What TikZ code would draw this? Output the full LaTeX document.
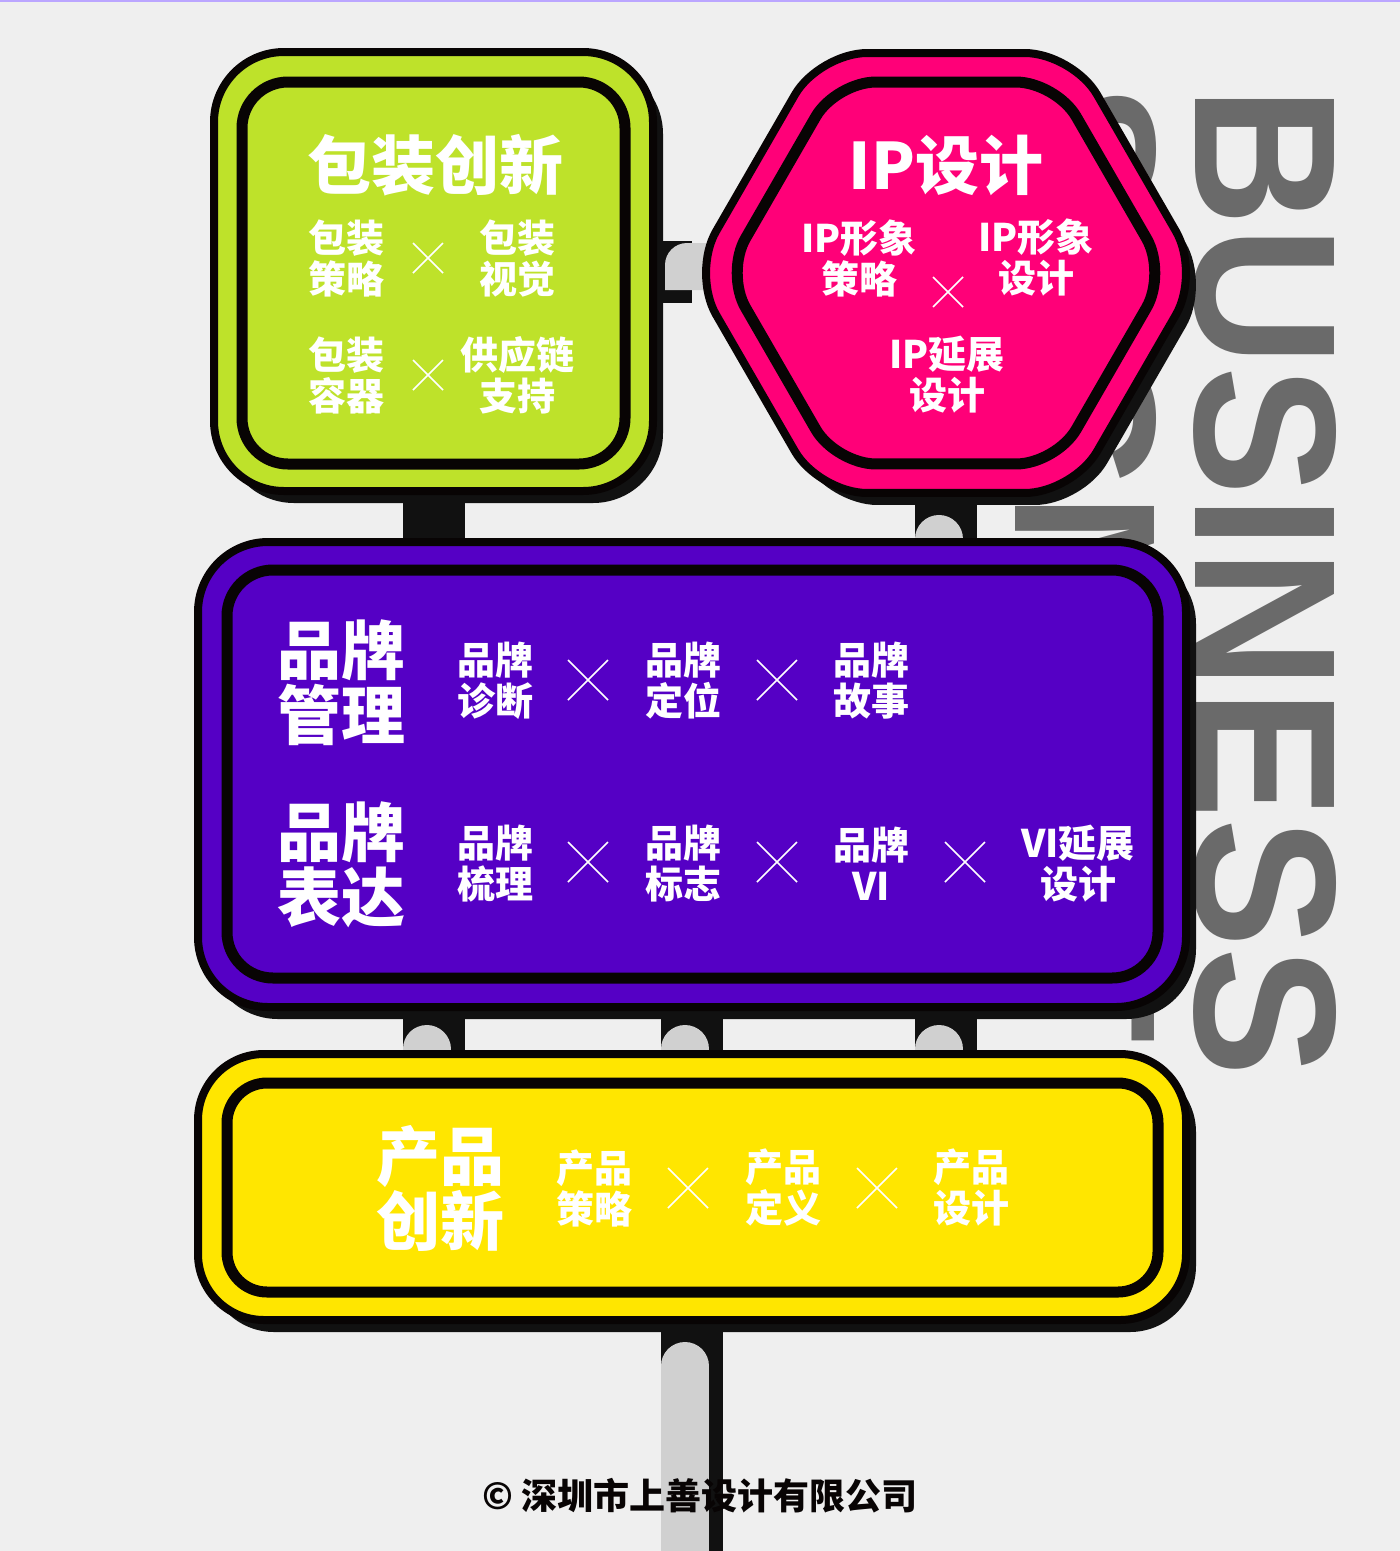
\documentclass[tikz,border=0pt]{standalone}
\usepackage{fontspec}
\usepackage{graphicx}
\usetikzlibrary{shapes.geometric,shadows,calc}
\newfontfamily\cjk{Noto Sans CJK SC}
\newfontfamily\latinsans{Liberation Sans}
\definecolor{bgc}{HTML}{EFEFEF}
\definecolor{grayc}{HTML}{6A6A6A}
\definecolor{greenc}{HTML}{BEE22A}
\definecolor{pinkc}{HTML}{FF0078}
\definecolor{purplec}{HTML}{5500C5}
\definecolor{yellowc}{HTML}{FFE600}
\definecolor{inkc}{HTML}{080404}
\definecolor{shadowc}{HTML}{111111}
\definecolor{postc}{HTML}{111111}
\definecolor{pipec}{HTML}{D0D0D0}
\definecolor{toplinec}{HTML}{BBA6FF}
\pgfdeclarelayer{back}
\pgfsetlayers{back,main}
\tikzset{
  every node/.style={inner sep=0pt, outer sep=0pt},
  boxshadow/.style={drop shadow={shadow xshift=10pt, shadow yshift=-12pt, opacity=1, fill=shadowc}},
  outerbox/.style={draw=inkc, line width=8pt, rounded corners=#1, boxshadow},
  innerring/.style={draw=inkc, line width=11pt, rounded corners=#1},
  titletext/.style={text=white, font=\cjk\bfseries\fontsize{64}{65}\selectfont, align=center},
  itemtext/.style={text=white, font=\cjk\bfseries\fontsize{38}{41}\selectfont, align=center},
  bigword/.style={rotate=-90, anchor=base west, text=grayc, font=\latinsans\bfseries\fontsize{202}{202}\selectfont},
  post/.style={draw=postc, line width=62pt},
  pipe/.style={draw=pipec, line width=48pt, line cap=round},
  xm/.style={draw=white, line width=1.6pt},
  pics/times/.style={code={\draw[xm] (-#1,-#1) -- (#1,#1) (-#1,#1) -- (#1,-#1);}}
}
\begin{document}
\begin{tikzpicture}[x=1pt,y=-1pt]
\useasboundingbox (0,0) rectangle (1400,1551);
\begin{pgfonlayer}{back}
  \fill[bgc] (0,0) rectangle (1400,1551);
  \fill[toplinec] (0,0) rectangle (1400,2);
  \node[bigword] (seg) at (1015,84) {\scalebox{0.96}[1]{SEGMENT}};
  \node[bigword] (biz) at (1195,86) {\scalebox{0.96}[1]{BUSINESS}};
\end{pgfonlayer}

% boxes
\node[outerbox=70pt, fill=greenc, minimum width=439pt, minimum height=439pt] (pkg) at (433.5,271.5) {};
\node[innerring=46pt, minimum width=383pt, minimum height=382pt] (pkgin) at (433.5,273) {};

\node[outerbox=48pt, fill=pinkc, regular polygon, regular polygon sides=6, minimum size=508pt] (ip) at (946,273) {};
\node[innerring=40pt, regular polygon, regular polygon sides=6, minimum size=441pt] (ipin) at (946,273) {};

\node[outerbox=70pt, fill=purplec, minimum width=988pt, minimum height=465pt] (brand) at (692,774.5) {};
\node[innerring=46pt, minimum width=931pt, minimum height=408pt] (brandin) at (692.5,774) {};

\node[outerbox=66pt, fill=yellowc, minimum width=988pt, minimum height=266pt] (prod) at (692,1187) {};
\node[innerring=40pt, minimum width=931pt, minimum height=209pt] (prodin) at (692.5,1187.5) {};

\coordinate (bot) at (692,1560);

% posts and pipes (behind boxes)
\begin{pgfonlayer}{back}
  \draw[post] (pkg.south) -- (pkg.south |- brand.north);
  \draw[post] (ip.south) -- (ip.south |- brand.north);
  \draw[pipe] ($(ip.south)+(-7,46)$) -- ($(ip.south |- brand.north)+(-7,10)$);
  \draw[post] (pkg.east) -- (pkg.east -| ip.west);
  \fill[pipec] ($(pkg.east)+(12,18.5)$) [rounded corners=22pt] -- ($(pkg.east)+(12,-28.5)$) [sharp corners] -- ($(pkg.east -| ip.west)+(35,-28.5)$) -- ($(pkg.east -| ip.west)+(35,18.5)$) -- cycle;
  \foreach \p in {pkg.south, brand.south, ip.south}{
    \draw[post] (brand.south -| \p) -- (prod.north -| \p);
    \draw[pipe] ($(brand.south -| \p)+(-7,42)$) -- ($(prod.north -| \p)+(-7,20)$);
  }
  \draw[post] (prod.south) -- (bot);
  \draw[pipe] ($(prod.south)+(-7,46)$) -- ($(bot)+(-7,30)$);
\end{pgfonlayer}

% package innovation
\node[titletext] (pkgt) at (435,165) {包装创新};
\node[itemtext] (pkga) at (346,258) {包装\\策略};
\node[itemtext] (pkgb) at (517,258) {包装\\视觉};
\node[itemtext] (pkgc) at (346,375) {包装\\容器};
\node[itemtext] (pkgd) at (517,375) {供应链\\支持};
\pic at (428,258) {times=15};
\pic at (428,375) {times=15};

% IP design
\node[titletext] (ipt) at (946,165) {IP设计};
\node[itemtext] (ipa) at (859,258) {IP形象\\策略};
\node[itemtext] (ipb) at (1036,258) {IP形象\\设计};
\node[itemtext] (ipc) at (947,375) {IP延展\\设计};
\pic at (948,292) {times=15};

% brand
\node[titletext] (bra) at (341,683) {品牌\\管理};
\node[itemtext] (bra1) at (495,681) {品牌\\诊断};
\node[itemtext] (bra2) at (683,681) {品牌\\定位};
\node[itemtext] (bra3) at (871,681) {品牌\\故事};
\pic at (588,680) {times=20};
\pic at (777,680) {times=20};

\node[titletext] (brb) at (341,865) {品牌\\表达};
\node[itemtext] (brb1) at (495,864) {品牌\\梳理};
\node[itemtext] (brb2) at (683,864) {品牌\\标志};
\node[itemtext] (brb3) at (871,864) {品牌\\VI};
\node[itemtext] (brb4) at (1078,864) {VI延展\\设计};
\pic at (588,862) {times=20};
\pic at (777,862) {times=20};
\pic at (965,862) {times=20};

% product
\node[titletext] (prt) at (440,1188) {产品\\创新};
\node[itemtext] (pr1) at (594,1188) {产品\\策略};
\node[itemtext] (pr2) at (783,1188) {产品\\定义};
\node[itemtext] (pr3) at (971,1188) {产品\\设计};
\pic at (688,1188) {times=20};
\pic at (877,1188) {times=20};

% copyright
\node[text=inkc, font=\cjk\bfseries\fontsize{36}{36}\selectfont] (copy) at (700,1496) {© 深圳市上善设计有限公司};
\end{tikzpicture}
\end{document}
